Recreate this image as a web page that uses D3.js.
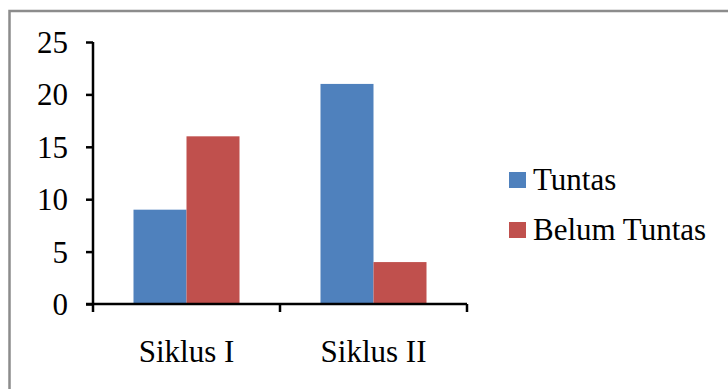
<!DOCTYPE html>
<html><head><meta charset="utf-8">
<script src="https://cdn.jsdelivr.net/npm/d3@7"></script>
<style>html,body{margin:0;padding:0;background:#fff;}svg{display:block;}</style>
</head><body>
<svg id="c" width="728" height="389"></svg>
<script>
const categories = ["Siklus I", "Siklus II"];
const seriesNames = ["Tuntas", "Belum Tuntas"];
const tuntas = [9, 21];
const belumTuntas = [16, 4];
const yTicks = [0, 5, 10, 15, 20, 25];
const colors = ["#4f81bd", "#c0504d"];

(function () {
const svg = d3.select("#c");
const font = "'Liberation Serif','Times New Roman',serif";
const fs = 31;

// outer frame
svg.append("rect").attr("x", 9.5).attr("y", 11).attr("width", 740).attr("height", 400)
  .attr("fill", "#fff").attr("stroke", "#8c8c8c").attr("stroke-width", 2.5);

const pLeft = 93, pRight = 467, pTop = 42, pBottom = 304;
const y = d3.scaleLinear().domain([0, 25]).range([pBottom, pTop]);
const x0 = d3.scaleBand().domain(categories).range([pLeft, pRight]).padding(0);
const x1 = d3.scaleBand().domain(seriesNames).range([0, x0.bandwidth()]).paddingInner(0).paddingOuter(0.764);

const data = categories.map((c, i) => ({cat: c, vals: [tuntas[i], belumTuntas[i]]}));

const g = svg.append("g");
data.forEach(d => {
  d.vals.forEach((v, j) => {
    g.append("rect")
      .attr("x", x0(d.cat) + x1(seriesNames[j]))
      .attr("y", y(v))
      .attr("width", x1.bandwidth())
      .attr("height", y(0) - y(v))
      .attr("fill", colors[j]);
  });
});

// y axis
const yAxis = svg.append("g").attr("transform", `translate(${pLeft},0)`)
  .call(d3.axisLeft(y).tickValues(yTicks).tickSize(7).tickPadding(18).tickFormat(d3.format("d")));
yAxis.select(".domain").attr("stroke", "#000").attr("stroke-width", 2.5).attr("d", `M0,${pTop}V${pBottom}`);
yAxis.selectAll(".tick line").attr("stroke", "#000").attr("stroke-width", 2.5);
yAxis.selectAll(".tick text").attr("font-family", font).attr("font-size", fs).attr("fill", "#000").attr("dy", "0.34em");

// x axis
const xAxis = svg.append("g").attr("transform", `translate(0,${pBottom})`);
xAxis.append("path").attr("d", `M${pLeft - 7},0H${pRight}`).attr("stroke", "#000").attr("stroke-width", 2.5);
const boundaries = [pLeft, ...categories.map(c => x0(c) + x0.bandwidth())];
boundaries.forEach(b => {
  xAxis.append("line").attr("x1", b).attr("x2", b).attr("y1", 0).attr("y2", 8)
    .attr("stroke", "#000").attr("stroke-width", 2.5);
});
categories.forEach(c => {
  xAxis.append("text").attr("x", x0(c) + x0.bandwidth() / 2).attr("y", 58)
    .attr("text-anchor", "middle").attr("font-family", font).attr("font-size", fs).attr("fill", "#000").text(c);
});

// legend
const legend = svg.append("g");
seriesNames.forEach((s, i) => {
  const ly = 172 + i * 50;
  legend.append("rect").attr("x", 509).attr("y", ly).attr("width", 17).attr("height", 16).attr("fill", colors[i]);
  legend.append("text").attr("x", 533).attr("y", ly + 18).attr("font-family", font).attr("font-size", fs)
    .attr("fill", "#000").text(s);
});
})();
</script>
</body></html>
